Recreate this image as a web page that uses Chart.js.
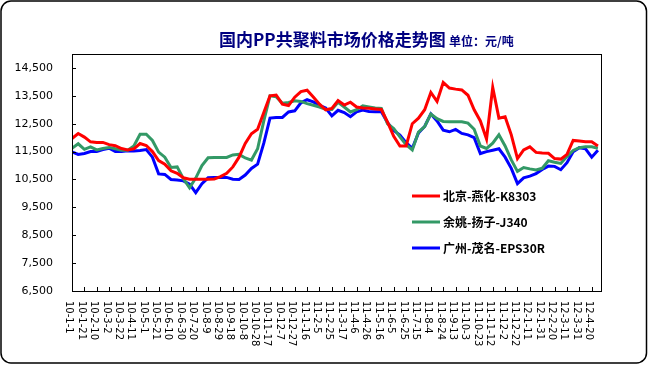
<!DOCTYPE html>
<html>
<head>
<meta charset="utf-8">
<script src="https://cdn.jsdelivr.net/npm/chart.js@4.4.0/dist/chart.umd.min.js"></script>
<style>
  html, body { margin: 0; padding: 0; background: #fff; }
</style>
</head>
<body>
<canvas id="myChartLine" width="648" height="366"></canvas>
<script>
// tick labels every 20 days, data sampled every 10 days
var tickLabels = ['10-1-1','10-1-21','10-2-10','10-3-2','10-3-22','10-4-11','10-5-1','10-5-21','10-6-10','10-6-30',
  '10-7-20','10-8-9','10-8-29','10-9-18','10-10-8','10-10-28','10-11-17','10-12-7','10-12-27','11-1-16',
  '11-2-5','11-2-25','11-3-17','11-4-6','11-4-26','11-5-16','11-6-5','11-6-25','11-7-15','11-8-4',
  '11-8-24','11-9-13','11-10-3','11-10-23','11-11-12','11-12-2','11-12-22','12-1-11','12-1-31','12-2-20',
  '12-3-11','12-3-31','12-4-20'];
var tickEvery = 20;
var dayStep = 10;
var lastDay = 855;

var yTicks = [6500, 7500, 8500, 9500, 10500, 11500, 12500, 13500, 14500];

var seriesNames = ['北京-燕化-K8303', '余姚-扬子-J340', '广州-茂名-EPS30R'];
var seriesColors = ['#ff0000', '#339966', '#0000ff'];

var beijing = [11970,12150,12020,11850,11830,11830,11750,11710,11610,11560,
  11600,11790,11720,11500,11180,11050,10810,10720,10560,10510,
  10510,10510,10510,10520,10600,10720,10950,11300,11790,12140,
  12300,12900,13500,13530,13200,13150,13450,13650,13700,13460,
  13200,13000,13050,13330,13170,13270,13100,13060,13050,13030,
  13010,12560,12050,11700,11700,12500,12700,13000,13620,13300,
  13980,13780,13740,13710,13520,13000,12600,11950,13800,12700,
  12750,12100,11250,11560,11670,11470,11450,11440,11250,11230,
  11400,11900,11880,11850,11850,11700];

var yuyao = [11620,11780,11580,11670,11560,11610,11650,11600,11550,11550,
  11700,12120,12120,11900,11480,11300,10930,10950,10530,10200,
  10550,11000,11280,11290,11290,11290,11380,11400,11270,11195,
  11600,12600,13500,13470,13230,13260,13320,13300,13220,13160,
  13100,13020,13010,13270,13100,12920,13000,13140,13100,13060,
  13050,12500,12330,12030,11750,11560,12200,12400,12850,12680,
  12580,12570,12570,12570,12520,12300,11700,11614,11800,12100,
  11700,11200,10790,10930,10880,10840,10900,11170,11120,11076,
  11320,11540,11640,11670,11670,11620];

var guangzhou = [11490,11400,11430,11500,11500,11570,11620,11500,11500,11530,
  11520,11540,11570,11300,10700,10680,10500,10480,10450,10330,
  10030,10350,10560,10575,10575,10575,10510,10503,10660,10897,
  11050,11800,12700,12724,12724,12920,12962,13250,13360,13285,
  13160,13060,12780,12980,12900,12750,12926,12990,12940,12926,
  12926,12540,12260,12090,11820,11620,12170,12400,12850,12600,
  12270,12210,12294,12150,12100,12000,11430,11500,11550,11600,
  11300,10900,10350,10560,10620,10710,10860,10980,10970,10850,
  11100,11490,11640,11600,11300,11550];

function toPoints(values) {
  return values.map(function (v, i) { return { x: i * dayStep, y: v }; });
}

var decorations = {
  id: 'decorations',
  beforeDraw: function (chart) {
    var ctx = chart.ctx;
    ctx.save();
    ctx.fillStyle = '#fff';
    ctx.fillRect(0, 0, chart.width, chart.height);
    ctx.restore();
  },
  afterDraw: function (chart) {
    var ctx = chart.ctx;
    var area = chart.chartArea;
    var xs = chart.scales.x, ys = chart.scales.y;
    ctx.save();

    // outer frame
    ctx.strokeStyle = '#000';
    ctx.lineWidth = 1.5;
    ctx.beginPath();
    ctx.roundRect(1, 1, 645.5, 362, 10);
    ctx.stroke();

    // plot box
    ctx.lineWidth = 1;
    ctx.strokeRect(area.left + 0.5, area.top + 0.5, area.right - area.left, area.bottom - area.top);

    // inside tick marks
    ctx.beginPath();
    yTicks.forEach(function (v) {
      var y = Math.round(ys.getPixelForValue(v)) + 0.5;
      ctx.moveTo(area.left, y);
      ctx.lineTo(area.left + 4, y);
    });
    tickLabels.forEach(function (t, i) {
      var x = Math.round(xs.getPixelForValue(i * tickEvery)) + 0.5;
      ctx.moveTo(x, area.bottom);
      ctx.lineTo(x, area.bottom - 4);
    });
    ctx.stroke();

    // x labels, rotated clockwise
    ctx.fillStyle = '#000';
    ctx.font = '10px "DejaVu Sans"';
    ctx.textAlign = 'left';
    ctx.textBaseline = 'middle';
    tickLabels.forEach(function (t, i) {
      var x = xs.getPixelForValue(i * tickEvery) - 3;
      ctx.save();
      ctx.translate(x, area.bottom + 10);
      ctx.rotate(Math.PI / 2);
      ctx.fillText(t, 0, 0);
      ctx.restore();
    });

    // title
    ctx.fillStyle = '#000080';
    ctx.textBaseline = 'middle';
    ctx.font = 'bold 17px "Noto Sans CJK SC"';
    ctx.fillText('国内PP共聚料市场价格走势图', 219, 40);
    ctx.font = 'bold 12px "Noto Sans CJK SC"';
    ctx.fillText('单位：元/吨', 449, 41);

    // legend inside the plot
    ctx.font = 'bold 12px "Noto Sans CJK SC"';
    ctx.fillStyle = '#000';
    ctx.lineWidth = 3;
    chart.data.datasets.forEach(function (ds, i) {
      var y = 196 + i * 26;
      ctx.strokeStyle = ds.borderColor;
      ctx.beginPath();
      ctx.moveTo(412, y);
      ctx.lineTo(440, y);
      ctx.stroke();
      ctx.fillText(ds.label, 443, y);
    });

    ctx.restore();
  }
};

new Chart(document.getElementById('myChartLine'), {
  type: 'line',
  data: {
    datasets: [beijing, yuyao, guangzhou].map(function (vals, i) {
      return {
        label: seriesNames[i],
        data: toPoints(vals),
        borderColor: seriesColors[i],
        backgroundColor: seriesColors[i],
        borderWidth: 3,
        pointRadius: 0,
        tension: 0,
        fill: false
      };
    })
  },
  options: {
    responsive: false,
    animation: false,
    devicePixelRatio: 1,
    layout: { padding: { left: 0, top: 54, right: 47, bottom: 0 } },
    plugins: {
      legend: { display: false },
      title: { display: false },
      tooltip: { enabled: false }
    },
    scales: {
      x: {
        type: 'linear',
        min: 0,
        max: lastDay,
        grid: { display: false },
        border: { display: false },
        ticks: { display: false },
        afterBuildTicks: function (s) {
          s.ticks = tickLabels.map(function (t, i) { return { value: i * tickEvery }; });
        },
        afterFit: function (s) { s.height = 75; }
      },
      y: {
        min: 6500,
        max: 15000,
        grid: { display: false },
        border: { display: false },
        ticks: {
          color: '#000',
          padding: 11,
          font: { family: 'DejaVu Sans', size: 11 },
          callback: function (v) { return v.toLocaleString('en-US'); }
        },
        afterBuildTicks: function (s) {
          s.ticks = yTicks.map(function (v) { return { value: v }; });
        },
        afterFit: function (s) { s.width = 72; }
      }
    }
  },
  plugins: [decorations]
});
</script>
</body>
</html>
